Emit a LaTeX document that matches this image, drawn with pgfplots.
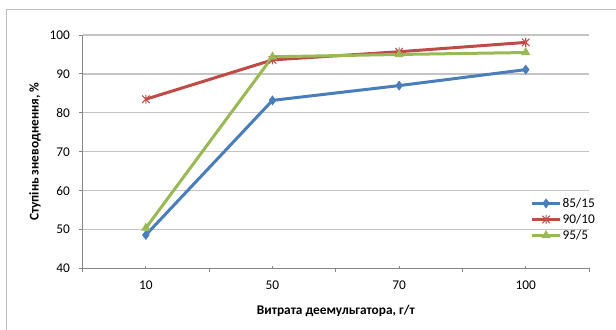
\documentclass[border=0pt]{standalone}
\usepackage{pgfplots}
\pgfplotsset{compat=1.18}
\usepackage{fontspec}
\setmainfont{Carlito}

\definecolor{sblue}{HTML}{4A7EBB}
\definecolor{sred}{HTML}{BE4B48}
\definecolor{sredmark}{HTML}{C0504D}
\definecolor{sgreen}{HTML}{98B954}
\definecolor{gridgray}{HTML}{C4C4C4}
\definecolor{axisgray}{HTML}{868686}
\definecolor{framegray}{HTML}{BDBDBD}

% star marker: a cross with a vertical bar
\pgfdeclareplotmark{xstar}{%
  \pgfpathmoveto{\pgfqpoint{-\pgfplotmarksize}{-\pgfplotmarksize}}%
  \pgfpathlineto{\pgfqpoint{\pgfplotmarksize}{\pgfplotmarksize}}%
  \pgfpathmoveto{\pgfqpoint{-\pgfplotmarksize}{\pgfplotmarksize}}%
  \pgfpathlineto{\pgfqpoint{\pgfplotmarksize}{-\pgfplotmarksize}}%
  \pgfpathmoveto{\pgfqpoint{0pt}{-1.2\pgfplotmarksize}}%
  \pgfpathlineto{\pgfqpoint{0pt}{1.2\pgfplotmarksize}}%
  \pgfusepathqstroke}

\begin{document}
\begin{tikzpicture}
\path[use as bounding box] (0,0) rectangle (462pt,246.75pt);
% chart frame
\draw[framegray, line width=0.75pt] (4.5pt,-10pt) |- (480pt,239.25pt);

\begin{axis}[
  at={(61.9pt,45.4pt)}, anchor=south west,
  scale only axis,
  width=379.9pt, height=175.1pt,
  xmin=-0.5, xmax=3.5,
  ymin=40, ymax=100,
  axis x line=bottom, axis y line=left,
  axis line style={axisgray, line width=0.75pt, -},
  xtick={-0.5,0.5,1.5,2.5,3.5},
  xticklabels={},
  extra x ticks={0,1,2,3},
  extra x tick labels={10,50,70,100},
  extra x tick style={tick align=inside, major tick length=2pt,
    xticklabel style={yshift=-5.5pt}},
  ytick={40,50,...,100},
  tick align=outside,
  major tick length=3pt,
  tick style={axisgray, line width=0.75pt},
  ymajorgrids,
  grid style={gridgray, line width=0.9pt},
  /pgf/number format/assume math mode=true,
  tick label style={font=\fontsize{10}{12}\selectfont, black},
  yticklabel style={xshift=-3pt},
  xlabel={\textbf{Витрата деемульгатора, г/т}},
  ylabel={\textbf{Ступінь зневоднення, \%}},
  xlabel style={at={(axis description cs:0.5,-0.182)}, anchor=center,
    font=\fontsize{10}{12}\selectfont},
  ylabel style={at={(axis description cs:-0.0938,0.5)}, anchor=center,
    font=\fontsize{10}{12}\selectfont},
  legend style={at={(axis description cs:0.884,0.21)}, anchor=west,
    draw=none, fill=none, inner sep=0pt, row sep=2pt,
    font=\fontsize{10}{12}\selectfont,
    nodes={inner sep=0.8pt}},
  legend cell align=left,
  legend image code/.code={%
    \draw[mark repeat=2, mark phase=2, #1]
      plot coordinates {(0pt,0pt) (10.5pt,0pt) (21pt,0pt)};},
  every axis plot/.append style={line width=2.25pt},
]
\addplot[sblue, mark=diamond*, mark size=3.4pt,
  mark options={line width=0.4pt, sblue}]
  coordinates {(0,48.6) (1,83.2) (2,87.0) (3,91.1)};
\addlegendentry{85/15}
\addplot[sred, mark=xstar, mark size=2.8pt,
  mark options={line width=0.8pt, sredmark}]
  coordinates {(0,83.5) (1,93.6) (2,95.7) (3,98.1)};
\addlegendentry{90/10}
\addplot[sgreen, mark=triangle*, mark size=3.6pt,
  mark options={line width=0.4pt, sgreen}]
  coordinates {(0,50.4) (1,94.4) (2,95.0) (3,95.5)};
\addlegendentry{95/5}
\end{axis}
\end{tikzpicture}
\end{document}
